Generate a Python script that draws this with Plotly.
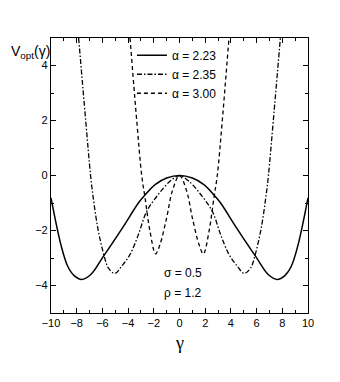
import plotly.graph_objects as go

# values (curves are symmetric about 0)
g_223 = [-10, -9.2, -8.7, -8.2, -7.6, -6.9, -5.95, -4.5, -3.2, -2.8, -1.9, -1.0, 0,
         1.0, 1.9, 2.8, 3.2, 4.5, 5.95, 6.9, 7.6, 8.2, 8.7, 9.2, 10]
v_223 = [-0.81, -2.57, -3.3, -3.64, -3.78, -3.6, -2.96, -1.95, -1.0, -0.77, -0.33, -0.09, 0,
         -0.09, -0.33, -0.77, -1.0, -1.95, -2.96, -3.6, -3.78, -3.64, -3.3, -2.57, -0.81]

g_235 = [-7.85, -7.3, -6.92, -6.73, -6.34, -5.82, -5.54, -5.03, -4.5, -3.85, -3.2, -2.55, -1.65, -0.74, 0,
         0.74, 1.65, 2.55, 3.2, 3.85, 4.5, 5.03, 5.54, 5.82, 6.34, 6.73, 6.92, 7.3, 7.85]
v_235 = [5, 2, 0, -0.75, -1.96, -3.0, -3.36, -3.56, -3.3, -2.87, -2.15, -1.3, -0.69, -0.21, 0,
         -0.21, -0.69, -1.3, -2.15, -2.87, -3.3, -3.56, -3.36, -3.0, -1.96, -0.75, 0, 2, 5]

g_300 = [-3.85, -3.33, -2.94, -2.68, -2.3, -1.86, -1.52, -1.0, -0.55, 0,
         0.55, 1.0, 1.52, 1.86, 2.3, 2.68, 2.94, 3.33, 3.85]
v_300 = [5, 2, 0, -0.81, -2.02, -2.85, -2.51, -1.54, -0.55, 0,
         -0.55, -1.54, -2.51, -2.85, -2.02, -0.81, 0, 2, 5]

x_ticks = [-10, -8, -6, -4, -2, 0, 2, 4, 6, 8, 10]
y_ticks = [-4, -2, 0, 2, 4]

fig = go.Figure()
fig.add_trace(go.Scatter(x=g_223, y=v_223, mode="lines", name="α = 2.23",
                         line=dict(color="black", width=1.5, shape="spline")))
fig.add_trace(go.Scatter(x=g_235, y=v_235, mode="lines", name="α = 2.35",
                         line=dict(color="black", width=1.3, shape="spline", dash="5px,2px,1.5px,2px")))
fig.add_trace(go.Scatter(x=g_300, y=v_300, mode="lines", name="α = 3.00",
                         line=dict(color="black", width=1.3, shape="spline", dash="4px,3px")))

axis_style = dict(showline=True, linecolor="black", linewidth=1.2, mirror="allticks",
                  ticks="inside", ticklen=5, tickwidth=1, tickcolor="black",
                  showgrid=False, zeroline=False,
                  tickfont=dict(family="Liberation Sans", size=11, color="black"),
                  minor=dict(ticks="inside", ticklen=3, dtick=1, tickcolor="black", showgrid=False))

fig.update_xaxes(range=[-10, 10], tickvals=x_ticks, **axis_style)
fig.update_yaxes(range=[-5, 5], tickvals=y_ticks, **axis_style)

fig.add_annotation(text="V<sub>opt</sub>(γ)", xref="paper", yref="paper", x=-0.165, y=0.949,
                   xanchor="left", yanchor="middle", showarrow=False,
                   font=dict(family="Liberation Sans", size=14, color="black"))
fig.add_annotation(text="γ", xref="paper", yref="paper", x=0.5, y=-0.109,
                   xanchor="center", yanchor="middle", showarrow=False,
                   font=dict(family="Liberation Serif", size=18, color="black"))
fig.add_annotation(text="σ = 0.5", xref="paper", yref="paper", x=0.432, y=0.145,
                   xanchor="left", yanchor="middle", showarrow=False,
                   font=dict(family="Liberation Sans", size=12, color="black"))
fig.add_annotation(text="ρ = 1.2", xref="paper", yref="paper", x=0.432, y=0.073,
                   xanchor="left", yanchor="middle", showarrow=False,
                   font=dict(family="Liberation Sans", size=12, color="black"))

# page body has an 8px margin, so the figure is 8px smaller and margins shifted
fig.update_layout(
    width=332, height=374,
    margin=dict(l=43, r=32, t=30, b=69),
    paper_bgcolor="white", plot_bgcolor="white",
    showlegend=True,
    legend=dict(x=0.315, y=0.99, xanchor="left", yanchor="top", bgcolor="rgba(0,0,0,0)",
                font=dict(family="Liberation Sans", size=12, color="black"),
                tracegroupgap=0, itemwidth=30),
)

fig.write_html("out.html")
